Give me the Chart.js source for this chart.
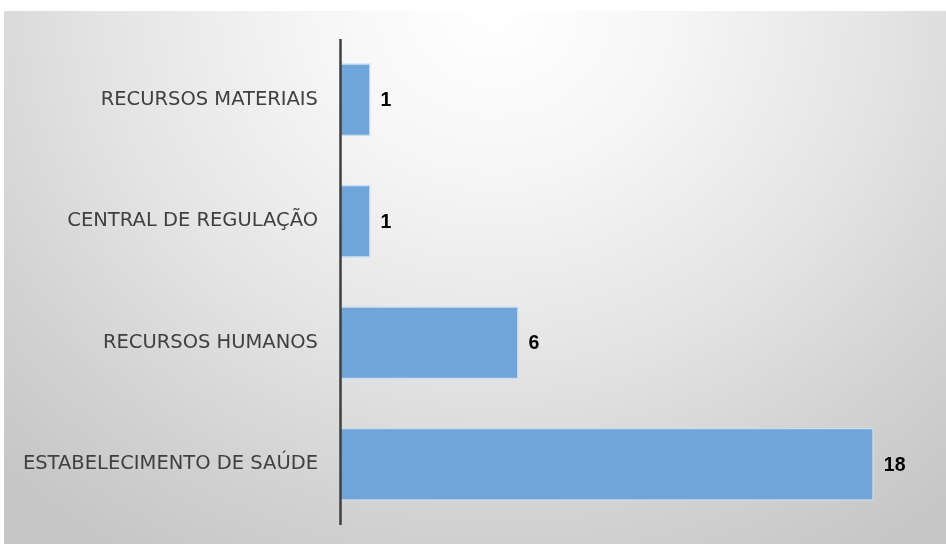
<!DOCTYPE html>
<html>
<head>
<meta charset="utf-8">
<script src="https://cdn.jsdelivr.net/npm/chart.js@4/dist/chart.umd.min.js"></script>
<style>
  html, body { margin: 0; padding: 0; background: #ffffff; }
  #wrap { position: relative; width: 946px; height: 544px; }
  #bg { position: absolute; left: 4px; top: 11px; width: 942px; height: 533px;
        background: radial-gradient(ellipse 75% 120% at 52% 0%, #ffffff 0%, #f6f6f6 25%, #e4e4e4 55%, #d2d2d2 80%, #c6c6c6 100%); }
  canvas { position: absolute; left: 0; top: 0; }
</style>
</head>
<body>
<div id="wrap">
  <div id="bg"></div>
  <canvas id="c" width="946" height="544"></canvas>
</div>
<script>
const categories = ["RECURSOS MATERIAIS", "CENTRAL DE REGULAÇÃO", "RECURSOS HUMANOS", "ESTABELECIMENTO DE SAÚDE"];
const values = [1, 1, 6, 18];
const xMin = 0;
const xMax = 20;

const valueLabels = {
  id: 'valueLabels',
  afterDatasetsDraw(chart) {
    const ctx = chart.ctx;
    const meta = chart.getDatasetMeta(0);
    ctx.save();
    ctx.font = 'bold 19.5px "Liberation Sans", Arial, sans-serif';
    ctx.fillStyle = '#000000';
    ctx.textAlign = 'left';
    ctx.textBaseline = 'middle';
    meta.data.forEach((bar, i) => {
      ctx.fillText(String(values[i]), bar.x + 10, bar.y + 1);
    });
    ctx.restore();
  }
};

const axisOnTop = {
  id: 'axisOnTop',
  afterDatasetsDraw(chart) {
    const ctx = chart.ctx;
    const a = chart.chartArea;
    ctx.save();
    ctx.strokeStyle = '#3f3f3f';
    ctx.lineWidth = 2.5;
    ctx.beginPath();
    ctx.moveTo(a.left - 0.5, a.top);
    ctx.lineTo(a.left - 0.5, a.bottom);
    ctx.stroke();
    ctx.restore();
  }
};

new Chart(document.getElementById('c'), {
  type: 'bar',
  data: {
    labels: categories,
    datasets: [{
      data: values,
      backgroundColor: '#6fa5d8',
      borderColor: '#c9def2',
      borderWidth: 1.5,
      categoryPercentage: 1,
      barPercentage: 0.6
    }]
  },
  options: {
    indexAxis: 'y',
    responsive: false,
    animation: false,
    devicePixelRatio: 1,
    layout: { padding: { top: 39, bottom: 19, right: 13, left: 0 } },
    plugins: { legend: { display: false }, tooltip: { enabled: false } },
    scales: {
      x: { display: false, min: xMin, max: xMax },
      y: {
        afterFit(s) { s.width = 341; s.paddingTop = 0; s.paddingBottom = 0; },
        grid: { display: false, drawTicks: false },
        border: { display: false },
        ticks: {
          color: '#404040',
          padding: 23,
          font: { family: '"DejaVu Sans", sans-serif', size: 19.5 }
        }
      }
    }
  },
  plugins: [valueLabels, axisOnTop]
});
</script>
</body>
</html>
